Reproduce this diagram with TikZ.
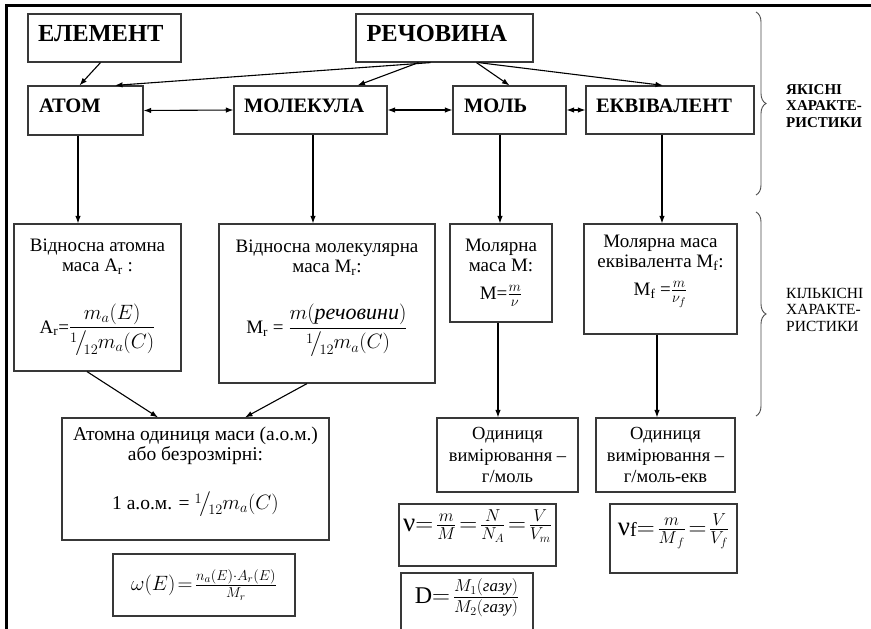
\documentclass[tikz,border=0pt]{standalone}
\usepackage{amsmath}
\usepackage{fontspec}
\setmainfont{Liberation Serif}
\usetikzlibrary{arrows.meta,decorations.pathreplacing,calc}
\newcommand{\otw}{\mathord{\raisebox{0.55ex}{$\scriptstyle 1$}\kern-0.1em\big/\kern-0.15em\raisebox{-0.6ex}{$\scriptstyle 12$}}}
\begin{document}
\thickmuskip=2mu plus 1mu
\medmuskip=2mu
\begin{tikzpicture}[x=1pt,y=-1pt,
  box/.style={draw=black!78, line width=1.2pt, rectangle, inner sep=0pt, align=center},
  topbox/.style={box, inner xsep=10pt, inner ysep=0pt, align=left, text depth=9pt, font=\bfseries\fontsize{20.5}{24}\selectfont},
  txt/.style={font=\fontsize{19}{20}\selectfont},
  arr/.style={-{Latex[length=7.5pt,width=5.5pt]}, line width=1.1pt},
  darr/.style={{Latex[length=7.5pt,width=5.5pt]}-{Latex[length=7.5pt,width=5.5pt]}, line width=1.1pt},
  bracestyle/.style={decorate, decoration={brace, amplitude=10pt}, line width=0.9pt, draw=black!70}]
\clip (0,0) rectangle (871,629);
\fill[white] (0,0) rectangle (871,629);
\draw[line width=3pt] (6,660) -- (6,5.5) -- (890,5.5);

% top row
\node[topbox, minimum width=153pt, minimum height=48pt, text width=133pt, font=\bfseries\fontsize{24.5}{28}\selectfont] (elem) at (104.5,38) {ЕЛЕМЕНТ};
\node[topbox, minimum width=177pt, minimum height=48pt, text width=156pt, font=\bfseries\fontsize{24.5}{28}\selectfont] (rech) at (444.5,38) {РЕЧОВИНА};
\node[topbox, minimum width=115pt, minimum height=49pt, text width=93pt] (atom) at (85.5,110.5) {АТОМ};
\node[topbox, minimum width=153pt, minimum height=48pt, text width=133pt] (mol) at (310.5,110) {МОЛЕКУЛА};
\node[topbox, minimum width=113pt, minimum height=48pt, text width=91pt] (mole) at (509.5,110) {МОЛЬ};
\node[topbox, minimum width=168pt, minimum height=48pt, text width=148pt] (ekv) at (670,110) {ЕКВІВАЛЕНТ};

% second row
\node[box, txt, minimum width=167pt, minimum height=147pt] (ar) at (97.5,297.5)
  {Відносна атомна\\ маса A\textsubscript{r} :\\[28pt]
   A\textsubscript{r}={\fontsize{22}{25}\selectfont$\dfrac{m_a(E)}{\otw m_a(C)}$}};
\node[box, txt, minimum width=216pt, minimum height=159pt] (mr) at (327,303.5)
  {Відносна молекулярна\\ маса M\textsubscript{r}:\\[28pt]
   M\textsubscript{r} = {\fontsize{22}{25}\selectfont$\dfrac{m(\textit{речовини})}{\otw m_a(C)}$}\\[10pt]};
\node[box, txt, minimum width=102pt, minimum height=98pt] (mm) at (501,273)
  {Молярна\\ маса M:\\[8pt] M={\fontsize{21}{22}\selectfont$\frac{m}{\nu}$}};
\node[box, txt, minimum width=153pt, minimum height=110pt] (mf) at (660.5,279)
  {Молярна маса\\ еквівалента M\textsubscript{f}:\\[8pt] M\textsubscript{f} ={\fontsize{21}{22}\selectfont$\frac{m}{\nu_{f}}$}\\[8pt]};

% third row
\node[box, font=\fontsize{19.5}{19.5}\selectfont, minimum width=267pt, minimum height=122pt] (aom) at (195.5,479)
  {Атомна одиниця маси (а.о.м.)\\ або безрозмірні:\\[26pt]
   1 а.о.м. = {\fontsize{21}{24}\selectfont$\otw m_a(C)$}\\[2pt]};
\node[box, font=\fontsize{18.5}{21.5}\selectfont, minimum width=141pt, minimum height=74pt] (od1) at (507.5,455)
  {Одиниця\\ вимірювання –\\ г/моль};
\node[box, font=\fontsize{18.5}{21.5}\selectfont, minimum width=139pt, minimum height=74pt] (od2) at (665.5,455)
  {Одиниця\\ вимірювання –\\ г/моль-екв};

% formula boxes
\node[box, font=\fontsize{22}{24}\selectfont, minimum width=182pt, minimum height=62pt] (om) at (204,585)
  {$\omega(E)=\frac{n_a(E)\cdot A_r(E)}{M_r}$};
\node[box, font=\fontsize{24}{26}\selectfont, minimum width=157pt, minimum height=62pt] (nu) at (477.5,535)
  {{\fontsize{27}{27}\selectfont ν}$=\frac{m}{M}=\frac{N}{N_A}=\frac{V}{V_m}$\\[3pt]};
\node[box, font=\fontsize{24}{26}\selectfont, minimum width=127pt, minimum height=69pt] (nuf) at (673.5,538.5)
  {{\fontsize{27}{27}\selectfont ν}\raisebox{-1pt}{\fontsize{20}{22}\selectfont f}$=\frac{m}{M_{\,f}}=\frac{V}{V_f}$\\[2pt]};
\node[box, font=\fontsize{24}{26}\selectfont, minimum width=132pt, minimum height=67pt] (dd) at (467,606.5)
  {D$=\frac{M_1(\textit{газу})}{M_2(\textit{газу})}$\\[4pt]};

% arrows top
\draw[arr] ([xshift=-4pt]elem.south) -- ([xshift=-6pt]atom.north);
\draw[arr] ([xshift=-14pt]rech.south) -- ([xshift=29.5pt]atom.north);
\draw[arr] ([xshift=-26pt]rech.south) -- ([xshift=47pt]mol.north);
\draw[arr] ([xshift=32pt]rech.south) -- (mole.north);
\draw[arr] ([xshift=34pt]rech.south) -- ([xshift=-7pt]ekv.north);
\draw[darr] (atom.east) -- (mol.west);
\draw[darr] (mol.east) -- (mole.west);
\draw[darr] (mole.east) -- (ekv.west);

% vertical arrows
\draw[arr] ([xshift=-7.5pt]atom.south) -- ([xshift=-7.5pt]atom.south |- ar.north);
\draw[arr] ([xshift=2.5pt]mol.south) -- ([xshift=2.5pt]mol.south |- mr.north);
\draw[arr] ([xshift=-9.5pt]mole.south) -- ([xshift=-9.5pt]mole.south |- mm.north);
\draw[arr] ([xshift=-8pt]ekv.south) -- ([xshift=-8pt]ekv.south |- mf.north);
\draw[arr] ([xshift=-3pt]mm.south) -- ([xshift=-3pt]mm.south |- od1.north);
\draw[arr] ([xshift=-3.5pt]mf.south) -- ([xshift=-3.5pt]mf.south |- od2.north);
\draw[arr] ([xshift=-10.5pt]ar.south) -- ([xshift=-37.5pt]aom.north);
\draw[arr] ([xshift=-20pt]mr.south) -- ([xshift=49.5pt]aom.north);

% braces
\coordinate (b1t) at (756,12);
\coordinate (b1b) at (756,195);
\coordinate (b2t) at (756,212);
\coordinate (b2b) at (756,416);
\draw[bracestyle] (b1t) -- (b1b);
\draw[bracestyle] (b2t) -- (b2b);
\node[anchor=north west, align=left, inner sep=0pt, font=\bfseries\fontsize{15}{16.5}\selectfont] (q1) at (786,84) {ЯКІСНІ\\ХАРАКТЕ-\\РИСТИКИ};
\node[anchor=north west, align=left, inner sep=0pt, font=\fontsize{15.5}{16.5}\selectfont] (q2) at (786,288) {КІЛЬКІСНІ\\ХАРАКТЕ-\\РИСТИКИ};
\end{tikzpicture}
\end{document}
